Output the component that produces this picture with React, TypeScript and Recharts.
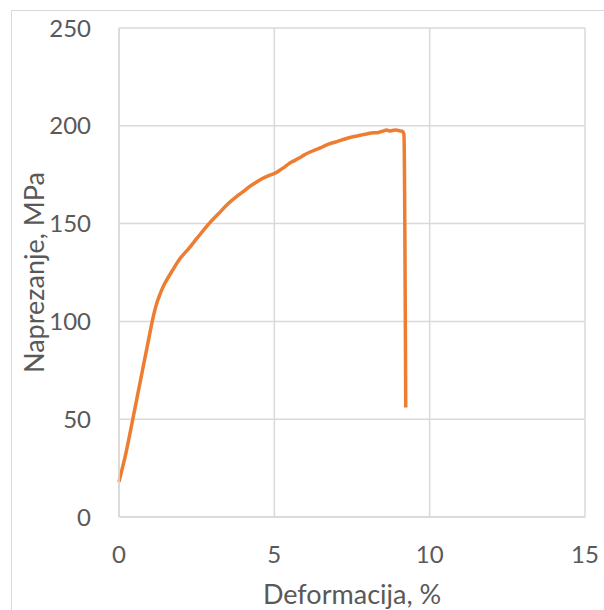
import React from "react";
import { LineChart, Line, XAxis, YAxis, CartesianGrid } from "recharts";

// strain (%) and stress (MPa)
const strain = [
  0, 0.1, 0.2, 0.3, 0.4, 0.5, 0.6, 0.7, 0.8, 0.9, 1.0, 1.07, 1.15, 1.22, 1.3, 1.4, 1.53, 1.7,
  1.96, 2.23, 2.5, 2.87, 3.2, 3.47, 3.8, 4.05, 4.22, 4.4, 4.6, 4.8, 5.0, 5.15, 5.3, 5.4, 5.5,
  5.65, 5.8, 5.95, 6.15, 6.3, 6.5, 6.65, 6.79, 6.95, 7.1, 7.3, 7.54, 7.7, 7.85, 8.0, 8.18,
  8.3, 8.4, 8.5, 8.61, 8.7, 8.8, 8.92, 9.04, 9.12, 9.17, 9.19, 9.2, 9.21, 9.22, 9.23,
];
const stress = [
  18, 24.5, 31, 38.5, 46.5, 54.5, 62.5, 70.5, 78.5, 86.5, 94.5, 100, 105.5, 109.5, 113, 117, 121,
  125.5, 132, 137, 142.3, 149.5, 155, 159.5, 164, 167, 169.2, 171, 172.9, 174.4, 175.6, 177, 178.6,
  179.8, 181, 182.2, 183.5, 185, 186.6, 187.6, 188.8, 190, 190.9, 191.6, 192.4, 193.4, 194.4,
  194.9, 195.5, 195.9, 196.5, 196.4, 196.9, 197.3, 197.9, 197.4, 197.6, 197.8, 197.4, 197.2, 195.8,
  175, 150, 120, 90, 56,
];

const xTicks = [0, 5, 10, 15];
const yTicks = [0, 50, 100, 150, 200, 250];

const data = strain.map((s, i) => ({ strain: s, stress: stress[i] }));

const FONT = "Lato, 'Open Sans', sans-serif";
const TEXT = "#595959";
const GRID = "#d9d9d9";

const YTitle = (props: any) => {
  const vb = props.viewBox || {};
  const cx = 44;
  const cy = vb.y + vb.height / 2;
  return (
    <text
      x={cx}
      y={cy}
      transform={`rotate(-90, ${cx}, ${cy})`}
      textAnchor="middle"
      fill={TEXT}
      fontSize={27}
      fontFamily={FONT}
    >
      Naprezanje, MPa
    </text>
  );
};

const XTitle = (props: any) => {
  const vb = props.viewBox || {};
  return (
    <text
      x={vb.x + vb.width / 2}
      y={vb.y + vb.height - 6}
      textAnchor="middle"
      fill={TEXT}
      fontSize={27}
      fontFamily={FONT}
    >
      Deformacija, %
    </text>
  );
};

const App: React.FC = () => {
  return (
    <div
      style={{
        position: "absolute",
        left: 0,
        top: 0,
        width: 604,
        height: 610,
        overflow: "hidden",
        background: "#fff",
      }}
    >
      <div
        style={{
          position: "absolute",
          left: 11,
          top: 10,
          width: 640,
          height: 640,
          border: `1px solid ${GRID}`,
        }}
      />
      <div style={{ position: "absolute", left: 0, top: 0 }}>
        <LineChart width={604} height={610} data={data} margin={{ top: 28, right: 19, left: 0, bottom: 0 }}>
          <CartesianGrid stroke={GRID} strokeWidth={1.5} />
          <XAxis
            dataKey="strain"
            type="number"
            domain={[0, 15]}
            ticks={xTicks}
            height={93}
            axisLine={{ stroke: GRID, strokeWidth: 1.5 }}
            tickLine={false}
            tickSize={0}
            tickMargin={29}
            tick={{ fill: TEXT, fontSize: 24, fontFamily: FONT }}
            label={<XTitle />}
          />
          <YAxis
            type="number"
            domain={[0, 250]}
            ticks={yTicks}
            width={119}
            axisLine={{ stroke: GRID, strokeWidth: 1.5 }}
            tickLine={false}
            tickSize={0}
            tickMargin={28}
            tick={{ fill: TEXT, fontSize: 24, fontFamily: FONT }}
            label={<YTitle />}
          />
          <Line
            type="monotone"
            dataKey="stress"
            stroke="#ED7D31"
            strokeWidth={3.5}
            dot={false}
            isAnimationActive={false}
          />
        </LineChart>
      </div>
    </div>
  );
};

export default App;
